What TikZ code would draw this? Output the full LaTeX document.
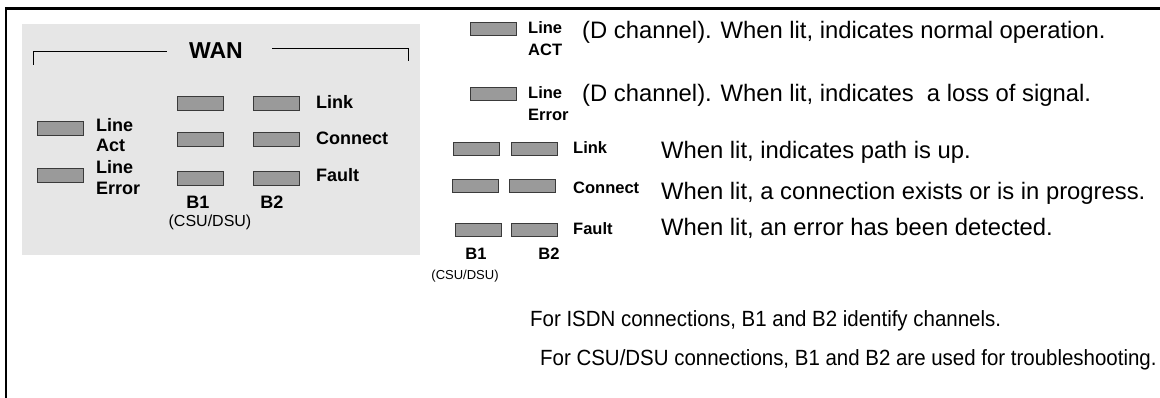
\documentclass[tikz,border=0pt]{standalone}
\usepackage{fontspec}
\setmainfont{Liberation Sans}
\newfontfamily\notefont[FakeStretch=0.93]{Liberation Sans}
\definecolor{panelgray}{HTML}{E6E6E6}
\definecolor{ledgray}{HTML}{9A9A9A}
\definecolor{lededge}{HTML}{3A3A3A}
\begin{document}
\begin{tikzpicture} [
            x=1pt, y=-1pt,
            led/.style = {draw=lededge, fill=ledgray, line width=0.8pt, rectangle, inner sep=0pt, minimum width=46pt, minimum height=14pt},
            sled/.style = {led, minimum height=13pt},
            lbl/.style = {font=\bfseries\fontsize{18}{20.5}\selectfont, align=left, anchor=west, inner sep=0pt},
            slbl/.style = {font=\bfseries\fontsize{16.5}{22}\selectfont, align=left, anchor=west, inner sep=0pt},
            desc/.style = {font=\fontsize{23.8}{26}\selectfont, anchor=west, inner sep=0pt},
            note/.style = {font=\notefont\fontsize{22}{24}\selectfont, anchor=west, inner sep=0pt},
        ]
            \useasboundingbox (0,0) rectangle (1160,398);

            % frame and panel
            \draw[line width=2.4pt] (6,398) -- (6,8.5) -- (1160,8.5);
            \fill[panelgray] (22,24) rectangle (420,255);

            % WAN bracket
            \node[font=\bfseries\fontsize{23}{23}\selectfont, inner sep=0pt] (WAN) at (216,51) {WAN};
            \draw[line width=0.8pt] (33,65) -- (33,51) -- (167,51);
            \draw[line width=0.8pt] (272,48) -- (408,48) -- (408,61);

            % panel LEDs
            \node[led] (PLA) at (60,128) {};
            \node[led] (PLE) at (60,175) {};
            \node[lbl] (PLAt) at (96,135) {Line\\Act};
            \node[lbl] (PLEt) at (96,177.5) {Line\\Error};

            \node[led] (PK1) at (200,103) {};
            \node[led] (PK2) at (276,103) {};
            \node[led] (PC1) at (200,139) {};
            \node[led] (PC2) at (276,139) {};
            \node[led] (PF1) at (200,178) {};
            \node[led] (PF2) at (276,178) {};
            \node[lbl] (PKt) at (316,102) {Link};
            \node[lbl] (PCt) at (316,138) {Connect};
            \node[lbl] (PFt) at (316,175) {Fault};

            \node[lbl, anchor=center] (PB1) at (198,202) {B1};
            \node[lbl, anchor=center] (PB2) at (272,202) {B2};
            \node[font=\fontsize{16}{16}\selectfont, inner sep=0pt] (PCSU) at (210,222) {(CSU/DSU)};

            % legend
            \node[sled] (LA) at (493,29) {};
            \node[slbl] (LAt) at (528,39) {Line\\ACT};
            \node[desc] (LAd) at (582,32) {(D channel). When lit, indicates normal operation.};

            \node[sled] (LE) at (493,93.5) {};
            \node[slbl] (LEt) at (528,104) {Line\\Error};
            \node[desc] (LEd) at (582,95) {(D channel). When lit, indicates\ \ a loss of signal.};

            \node[sled] (K1) at (476,149) {};
            \node[sled] (K2) at (534,149) {};
            \node[slbl] (Kt) at (573,148) {Link};
            \node[desc] (Kd) at (661,152) {When lit, indicates path is up.};

            \node[sled] (C1) at (475,186) {};
            \node[sled] (C2) at (532,186) {};
            \node[slbl] (Ct) at (573,188) {Connect};
            \node[desc] (Cd) at (661,193) {When lit, a connection exists or is in progress.};

            \node[sled] (F1) at (478,230) {};
            \node[sled] (F2) at (534,230) {};
            \node[slbl] (Ft) at (573,229) {Fault};
            \node[desc] (Fd) at (661,228) {When lit, an error has been detected.};

            \node[slbl, anchor=center] (B1) at (476,254) {B1};
            \node[slbl, anchor=center] (B2) at (549,254) {B2};
            \node[font=\fontsize{13}{13}\selectfont, inner sep=0pt] (CSU) at (465,276) {(CSU/DSU)};

            \node[note] (N1) at (530,321) {For ISDN connections, B1 and B2 identify channels.};
            \node[note] (N2) at (540,360) {For CSU/DSU connections, B1 and B2 are used for troubleshooting.};
        \end{tikzpicture}
\end{document}
